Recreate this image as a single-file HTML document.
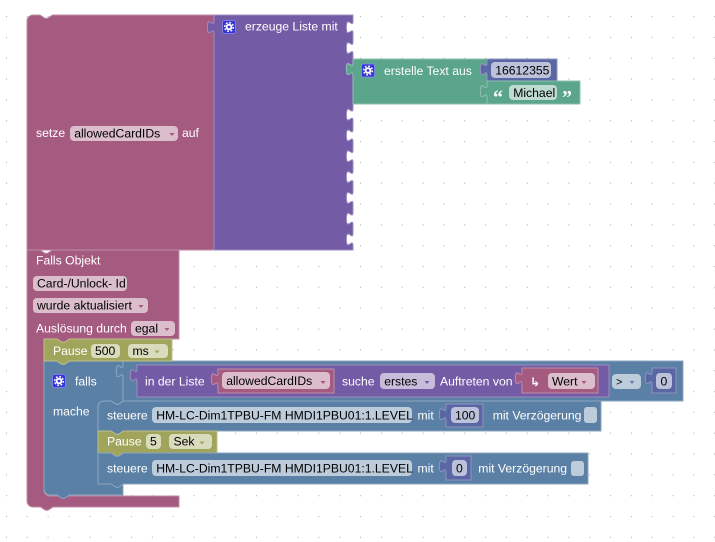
<!DOCTYPE html>
<html><head><meta charset="utf-8"><style>
html,body{margin:0;padding:0;background:#fff;}
svg{display:block;}
text{font-family:"Liberation Sans",Arial,sans-serif;font-size:12.2px;}
.l{fill:#fff;}
.f{fill:#000;}
.pk{fill:#A55B80;stroke:#C08CA6;stroke-width:1;}
.pu{fill:#745BA5;stroke:#9E8CC0;stroke-width:1;}
.gr{fill:#5BA58D;stroke:#8CC0AF;stroke-width:1;}
.bl{fill:#5B80A5;stroke:#8CA6C0;stroke-width:1;}
.ma{fill:#5B67A5;stroke:#8C95C0;stroke-width:1;}
.ol{fill:#A1A55B;stroke:#BDC08C;stroke-width:1;}
</style></head><body>
<svg width="715" height="542" viewBox="0 0 715 542" xmlns="http://www.w3.org/2000/svg">
<defs>
<pattern id="g" x="6" y="16" width="20.83" height="20.83" patternUnits="userSpaceOnUse"><rect width="1" height="1.2" fill="#b4b4b4"/></pattern>
</defs>
<rect width="715" height="542" fill="#fff"/>
<rect width="715" height="542" fill="url(#g)"/>

<!-- setze block -->
<path class="pk" d="M27,21 a6,6 0 0 1 6,-6 H40 l5,3.3 2.5,0 5,-3.3 H214 V250 H27 Z"/>
<text class="l" x="36" y="137">setze</text>
<rect x="70" y="126" width="108" height="15" rx="4" fill="#DBBDCC"/>
<text class="f" x="74.2" y="137.5">allowedCardIDs</text>
<polygon points="169.5,133 174.5,133 172,136" fill="#A55B80"/>
<text class="l" x="182" y="137">auf</text>

<!-- erzeuge Liste mit -->
<path class="pu" d="M214,15 H353 V21 c0,8.3 -6.6,-6.6 -6.6,6.2 s6.6,-2.1 6.6,6.2 V41.8 c0,8.3 -6.6,-6.6 -6.6,6.2 s6.6,-2.1 6.6,6.2 V62.6 c0,8.3 -6.6,-6.6 -6.6,6.2 s6.6,-2.1 6.6,6.2 V108.4 c0,8.3 -6.6,-6.6 -6.6,6.2 s6.6,-2.1 6.6,6.2 V129.2 c0,8.3 -6.6,-6.6 -6.6,6.2 s6.6,-2.1 6.6,6.2 V150 c0,8.3 -6.6,-6.6 -6.6,6.2 s6.6,-2.1 6.6,6.2 V170.8 c0,8.3 -6.6,-6.6 -6.6,6.2 s6.6,-2.1 6.6,6.2 V191.6 c0,8.3 -6.6,-6.6 -6.6,6.2 s6.6,-2.1 6.6,6.2 V212.4 c0,8.3 -6.6,-6.6 -6.6,6.2 s6.6,-2.1 6.6,6.2 V233.2 c0,8.3 -6.6,-6.6 -6.6,6.2 s6.6,-2.1 6.6,6.2 V250 H214 V33.4 c0,-8.3 -6.6,6.6 -6.6,-6.2 s6.6,2.1 6.6,-6.2 V15 Z"/>
<rect x="222.5" y="20.5" width="13" height="13" rx="2" fill="#3535d6" stroke="#8a8af0" stroke-width="0.8"/>
<circle cx="229" cy="27" r="4.3" fill="none" stroke="#fff" stroke-width="1.6" stroke-dasharray="1.7 1.7"/>
<circle cx="229" cy="27" r="3.3" fill="#fff"/>
<circle cx="229" cy="27" r="1.4" fill="#3535d6"/>
<text class="l" x="245" y="30.5">erzeuge Liste mit</text>

<!-- erstelle Text aus -->
<path class="gr" d="M353,59 H487 V63 c0,8.3 -6.6,-6.6 -6.6,6.2 s6.6,-2.1 6.6,6.2 V85 c0,8.3 -6.6,-6.6 -6.6,6.2 s6.6,-2.1 6.6,6.2 V104 H353 V75.4 c0,-8.3 -6.6,6.6 -6.6,-6.2 s6.6,2.1 6.6,-6.2 V59 Z"/>
<rect x="361.5" y="64" width="13" height="13" rx="2" fill="#3535d6" stroke="#8a8af0" stroke-width="0.8"/>
<circle cx="368" cy="70.5" r="4.3" fill="none" stroke="#fff" stroke-width="1.6" stroke-dasharray="1.7 1.7"/>
<circle cx="368" cy="70.5" r="3.3" fill="#fff"/>
<circle cx="368" cy="70.5" r="1.4" fill="#3535d6"/>
<text class="l" x="384" y="75">erstelle Text aus</text>

<path class="ma" d="M487,59 H557 V81 H487 V75.4 c0,-8.3 -6.6,6.6 -6.6,-6.2 s6.6,2.1 6.6,-6.2 V59 Z"/>
<rect x="491" y="62" width="60" height="16" rx="4" fill="#BDC2DB"/>
<text class="f" x="495.2" y="74.5">16612355</text>

<path class="gr" d="M487,81 H580 V104 H487 V97.4 c0,-8.3 -6.6,6.6 -6.6,-6.2 s6.6,2.1 6.6,-6.2 V81 Z"/>
<text x="493" y="104" fill="#fff" style="font-family:'Liberation Serif',serif;font-size:20px;font-weight:bold">“</text>
<rect x="509" y="85" width="48" height="15" rx="4" fill="#BDDBD1"/>
<text class="f" x="513.2" y="97">Michael</text>
<text x="562" y="104" fill="#fff" style="font-family:'Liberation Serif',serif;font-size:20px;font-weight:bold">”</text>

<!-- Falls Objekt event block -->
<path class="pk" d="M27,250 H40 l5,3.3 2.5,0 5,-3.3 H179 V339 H69.5 l-5,3.3 -2.5,0 -5,-3.3 H50 a6,6 0 0 0 -6,6 V490 a6,6 0 0 0 6,6 H179 V507 H53 l-5,3.3 -2.5,0 -5,-3.3 H33 a6,6 0 0 1 -6,-6 Z"/>
<text class="l" x="36" y="264.5">Falls Objekt</text>
<rect x="33" y="276" width="94" height="15" rx="4" fill="#DBBDCC"/>
<text class="f" x="37" y="287.5">Card-/Unlock- Id</text>
<rect x="33" y="298" width="115" height="15" rx="4" fill="#DBBDCC"/>
<text class="f" x="37" y="309.5">wurde aktualisiert</text>
<polygon points="138.5,305 143.5,305 141,308" fill="#A55B80"/>
<text class="l" x="36" y="332.5">Auslösung durch</text>
<rect x="131" y="321" width="44" height="15" rx="4" fill="#DBBDCC"/>
<text class="f" x="135" y="332.5">egal</text>
<polygon points="164.5,328 169.5,328 167,331" fill="#A55B80"/>

<!-- falls (if) block -->
<path class="bl" d="M44,361 H57 l5,3.3 2.5,0 5,-3.3 H123 V365 c0,8.3 -6.6,-6.6 -6.6,6.2 s6.6,-2.1 6.6,6.2 V401 H123.5 l-5,3.3 -2.5,0 -5,-3.3 H104 a6,6 0 0 0 -6,6 V477 a6,6 0 0 0 6,6 H123 V495 H69.5 l-5,3.3 -2.5,0 -5,-3.3 H50 a6,6 0 0 1 -6,-6 Z"/>
<rect x="52.5" y="374.5" width="13" height="13" rx="2" fill="#3535d6" stroke="#8a8af0" stroke-width="0.8"/>
<circle cx="59" cy="381" r="4.3" fill="none" stroke="#fff" stroke-width="1.6" stroke-dasharray="1.7 1.7"/>
<circle cx="59" cy="381" r="3.3" fill="#fff"/>
<circle cx="59" cy="381" r="1.4" fill="#3535d6"/>
<text class="l" x="75" y="385.5">falls</text>
<text class="l" x="53" y="415.5">mache</text>

<!-- compare block -->
<path class="bl" d="M123,361 H683 V401 H123 V377.4 c0,-8.3 -6.6,6.6 -6.6,-6.2 s6.6,2.1 6.6,-6.2 V361 Z"/>

<!-- in der Liste block -->
<path class="pu" d="M137,365 H609 V397 H137 V381.4 c0,-8.3 -6.6,6.6 -6.6,-6.2 s6.6,2.1 6.6,-6.2 V365 Z"/>
<text class="l" x="145" y="385.5">in der Liste</text>
<path class="pk" d="M218,369 H334 V393 H218 V385.4 c0,-8.3 -6.6,6.6 -6.6,-6.2 s6.6,2.1 6.6,-6.2 V369 Z"/>
<rect x="222" y="372" width="108" height="17" rx="4" fill="#DBBDCC"/>
<text class="f" x="226.2" y="385">allowedCardIDs</text>
<polygon points="320.5,381 325.5,381 323,384" fill="#A55B80"/>
<text class="l" x="342" y="385.5">suche</text>
<rect x="380" y="373" width="55" height="16" rx="4" fill="#C7BDDB"/>
<text class="f" x="384.2" y="385.5">erstes</text>
<polygon points="424.5,381 429.5,381 427,384" fill="#745BA5"/>
<text class="l" x="440" y="385.5">Auftreten von</text>
<path class="pk" d="M522,368 H598 V393 H522 V384.4 c0,-8.3 -6.6,6.6 -6.6,-6.2 s6.6,2.1 6.6,-6.2 V368 Z"/>
<text x="530" y="386" fill="#fff" style="font-family:'DejaVu Sans',sans-serif;font-size:12px;font-weight:bold">↳</text>
<rect x="548" y="373" width="47" height="16" rx="4" fill="#DBBDCC"/>
<text class="f" x="552" y="385.5">Wert</text>
<polygon points="581.5,381 586.5,381 584,384" fill="#A55B80"/>

<rect x="612" y="374" width="29" height="15" rx="4" fill="#BDCCDB"/>
<text class="f" x="616" y="385.5" style="font-size:11px">&gt;</text>
<polygon points="629.5,381 634.5,381 632,384" fill="#5B80A5"/>
<path class="ma" d="M652,368 H676 V393 H652 V384.4 c0,-8.3 -6.6,6.6 -6.6,-6.2 s6.6,2.1 6.6,-6.2 V368 Z"/>
<rect x="656" y="373" width="16" height="16" rx="4" fill="#BDC2DB"/>
<text class="f" x="660.5" y="385.5">0</text>

<!-- steuere 1 -->
<path class="bl" d="M98,407 a6,6 0 0 1 6,-6 H111 l5,3.3 2.5,0 5,-3.3 H601 V431 H123.5 l-5,3.3 -2.5,0 -5,-3.3 H98 Z"/>
<text class="l" x="107" y="419.5">steuere</text>
<rect x="152" y="407" width="260" height="16" rx="4" fill="#BDCCDB"/>
<text class="f" x="156.2" y="419.5">HM-LC-Dim1TPBU-FM HMDI1PBU01:1.LEVEL</text>
<text class="l" x="417.5" y="419.5">mit</text>
<path class="ma" d="M446,404 H483 V427 H446 V420.4 c0,-8.3 -6.6,6.6 -6.6,-6.2 s6.6,2.1 6.6,-6.2 V404 Z"/>
<rect x="451" y="407" width="28" height="16" rx="4" fill="#BDC2DB"/>
<text class="f" x="455" y="419.5">100</text>
<text class="l" x="492.7" y="419.5">mit Verzögerung</text>
<rect x="584" y="407" width="13" height="16" rx="3" fill="#BDCCDB"/>

<!-- Pause 5 -->
<path class="ol" d="M98,431 H111 l5,3.3 2.5,0 5,-3.3 H217 V453 H123.5 l-5,3.3 -2.5,0 -5,-3.3 H98 Z"/>
<text class="l" x="107" y="445.5">Pause</text>
<rect x="146" y="434" width="15" height="15" rx="4" fill="#D9DBBD"/>
<text class="f" x="150" y="445.5">5</text>
<rect x="169" y="434" width="43" height="15" rx="4" fill="#D9DBBD"/>
<text class="f" x="173.5" y="445.5">Sek</text>
<polygon points="199.5,441.5 204.5,441.5 202,444.5" fill="#A1A55B"/>

<!-- steuere 2 -->
<path class="bl" d="M98,453 H111 l5,3.3 2.5,0 5,-3.3 H588 V484 H123.5 l-5,3.3 -2.5,0 -5,-3.3 H98 Z"/>
<text class="l" x="107" y="472.5">steuere</text>
<rect x="152" y="460" width="260" height="16" rx="4" fill="#BDCCDB"/>
<text class="f" x="156.2" y="472.5">HM-LC-Dim1TPBU-FM HMDI1PBU01:1.LEVEL</text>
<text class="l" x="417.5" y="472.5">mit</text>
<path class="ma" d="M446,456 H471 V480 H446 V472.4 c0,-8.3 -6.6,6.6 -6.6,-6.2 s6.6,2.1 6.6,-6.2 V456 Z"/>
<rect x="452" y="460" width="15" height="16" rx="4" fill="#BDC2DB"/>
<text class="f" x="456" y="472.5">0</text>
<text class="l" x="478.3" y="472.5">mit Verzögerung</text>
<rect x="571" y="461" width="13" height="15" rx="3" fill="#BDCCDB"/>

<!-- Pause 500 -->
<path class="ol" d="M44,339 H57 l5,3.3 2.5,0 5,-3.3 H172 V361 H69.5 l-5,3.3 -2.5,0 -5,-3.3 H44 Z"/>
<text class="l" x="53" y="355">Pause</text>
<rect x="91" y="344" width="29" height="14" rx="4" fill="#D9DBBD"/>
<text class="f" x="95" y="355">500</text>
<rect x="128" y="344" width="40" height="14" rx="4" fill="#D9DBBD"/>
<text class="f" x="132.5" y="355">ms</text>
<polygon points="154.5,350.5 159.5,350.5 157,353.5" fill="#A1A55B"/>
</svg>
</body></html>
